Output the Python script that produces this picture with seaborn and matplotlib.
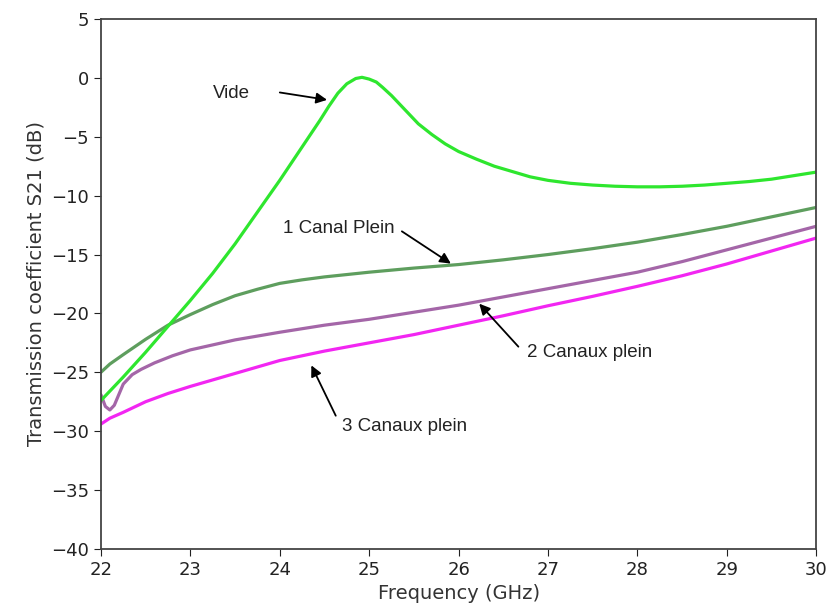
import matplotlib
matplotlib.use("Agg")
import matplotlib.pyplot as plt
import seaborn as sns

# Values (GHz, dB)
vide_f = [22.0, 22.25, 22.5, 22.75, 23.0, 23.25, 23.5, 23.75, 24.0, 24.15, 24.3, 24.45,
          24.55, 24.65, 24.75, 24.85, 24.92, 25.0, 25.08, 25.15, 25.25, 25.35, 25.45, 25.55,
          25.7, 25.85, 26.0, 26.2, 26.4, 26.6, 26.8, 27.0, 27.25, 27.5, 27.75, 28.0,
          28.25, 28.5, 28.75, 29.0, 29.25, 29.5, 29.75, 30.0]
vide_s21 = [-27.4, -25.4, -23.3, -21.1, -18.9, -16.6, -14.1, -11.4, -8.7, -7.0, -5.3, -3.6,
            -2.4, -1.3, -0.5, -0.05, 0.05, -0.1, -0.35, -0.8, -1.5, -2.3, -3.1, -3.9,
            -4.8, -5.6, -6.25, -6.9, -7.5, -7.95, -8.4, -8.7, -8.95, -9.1, -9.2, -9.25,
            -9.25, -9.2, -9.1, -8.95, -8.8, -8.6, -8.3, -8.0]

canal1_f = [22.0, 22.1, 22.25, 22.5, 22.75, 23.0, 23.25, 23.5, 23.75, 24.0, 24.25, 24.5,
            24.75, 25.0, 25.5, 26.0, 26.5, 27.0, 27.5, 28.0, 28.5, 29.0, 29.5, 30.0]
canal1_s21 = [-25.0, -24.3, -23.5, -22.2, -21.0, -20.1, -19.25, -18.5, -17.95, -17.45, -17.15, -16.9,
              -16.7, -16.5, -16.15, -15.85, -15.45, -15.0, -14.5, -13.95, -13.3, -12.6, -11.8, -11.0]

canaux2_f = [22.0, 22.05, 22.1, 22.15, 22.2, 22.25, 22.35, 22.45, 22.6, 22.8, 23.0, 23.5,
             24.0, 24.5, 25.0, 25.5, 26.0, 26.5, 27.0, 27.5, 28.0, 28.5, 29.0, 29.5, 30.0]
canaux2_s21 = [-26.9, -27.9, -28.2, -27.8, -26.9, -26.0, -25.2, -24.75, -24.2, -23.6, -23.1, -22.25,
               -21.6, -21.0, -20.5, -19.9, -19.3, -18.6, -17.9, -17.2, -16.5, -15.6, -14.6, -13.6, -12.6]

canaux3_f = [22.0, 22.1, 22.25, 22.5, 22.75, 23.0, 23.5, 24.0, 24.5, 25.0, 25.5, 26.0,
             26.5, 27.0, 27.5, 28.0, 28.5, 29.0, 29.5, 30.0]
canaux3_s21 = [-29.4, -28.9, -28.4, -27.5, -26.8, -26.2, -25.1, -24.0, -23.2, -22.5, -21.8, -21.0,
               -20.2, -19.35, -18.55, -17.7, -16.8, -15.8, -14.7, -13.6]

sns.set_style("ticks")
plt.rcParams['font.family'] = ['DejaVu Sans']

fig, ax = plt.subplots(figsize=(8.27, 6.14), dpi=100)
fig.subplots_adjust(left=0.122, right=0.987, bottom=0.106, top=0.969)

lw = 2.3
sns.lineplot(x=canal1_f, y=canal1_s21, ax=ax, color='#5e9e5e', lw=lw, sort=False)
sns.lineplot(x=canaux2_f, y=canaux2_s21, ax=ax, color='#a466a8', lw=lw, sort=False)
sns.lineplot(x=canaux3_f, y=canaux3_s21, ax=ax, color='#f226f2', lw=lw, sort=False)
sns.lineplot(x=vide_f, y=vide_s21, ax=ax, color='#2ee62e', lw=lw, sort=False)

ax.set_xlim(22, 30)
ax.set_ylim(-40, 5)
ax.set_xticks(range(22, 31))
ax.set_yticks(range(-40, 6, 5))
ax.tick_params(labelsize=13, colors='#222222', length=5)
ax.set_xlabel('Frequency (GHz)', fontsize=14, color='#333333')
ax.set_ylabel('Transmission coefficient S21 (dB)', fontsize=14, color='#333333', labelpad=4)
for sp in ax.spines.values():
    sp.set_color('#444444')
    sp.set_linewidth(1.3)

# annotations (arrows point onto the curves)
arrow = dict(arrowstyle='-|>', color='black', lw=1.3, mutation_scale=16)
txt = dict(fontsize=13.5, family=['Liberation Sans', 'DejaVu Sans'], color='#222222', va='center')
ax.annotate('', xy=(24.56, -1.9), xytext=(23.97, -1.2), arrowprops=arrow)
ax.text(23.25, -1.3, 'Vide', **txt)
ax.annotate('', xy=(25.94, -15.9), xytext=(25.34, -12.9), arrowprops=arrow)
ax.text(24.04, -12.8, '1 Canal Plein', **txt)
ax.annotate('', xy=(26.21, -19.0), xytext=(26.69, -23.0), arrowprops=arrow)
ax.text(26.77, -23.3, '2 Canaux plein', **txt)
ax.annotate('', xy=(24.34, -24.2), xytext=(24.64, -28.9), arrowprops=arrow)
ax.text(24.7, -29.6, '3 Canaux plein', **txt)

plt.savefig('out.png', dpi=100)
